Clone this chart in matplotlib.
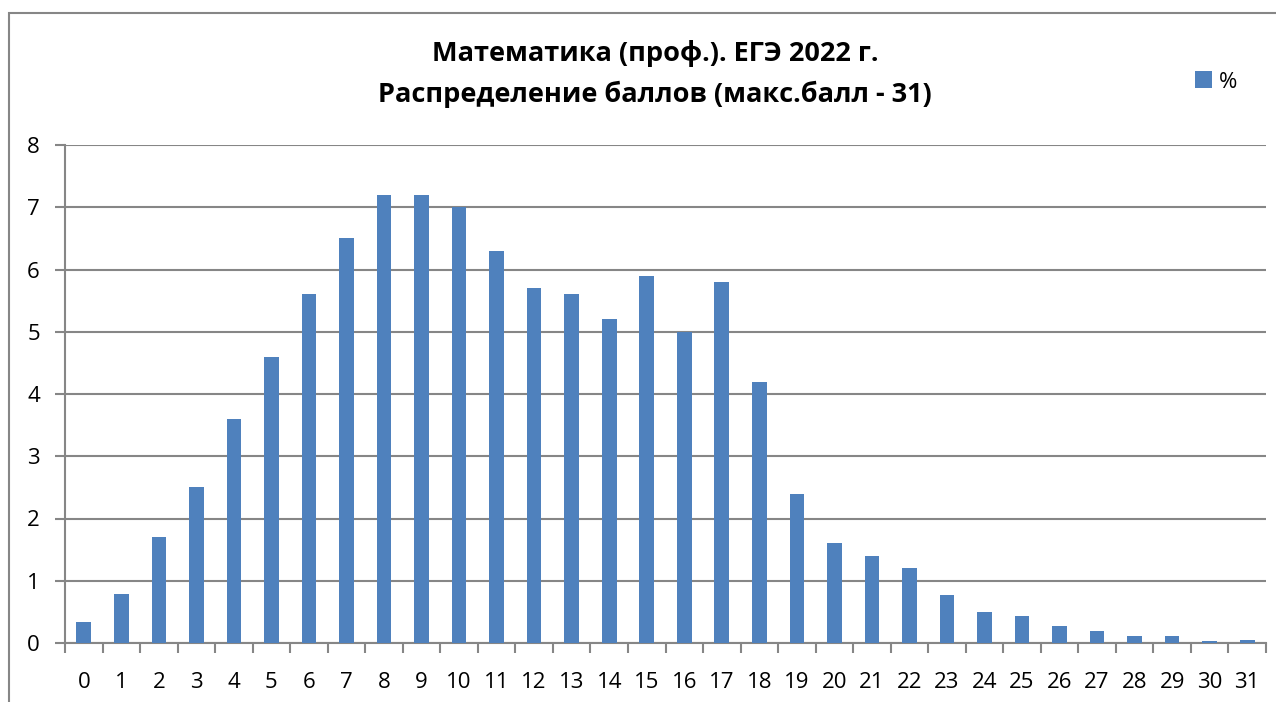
import matplotlib
matplotlib.use('Agg')
import matplotlib.pyplot as plt
from matplotlib.patches import Rectangle

# распределение баллов, %
scores = list(range(32))
percent = [0.34, 0.78, 1.7, 2.5, 3.6, 4.6, 5.6, 6.5, 7.2, 7.2,
           7.0, 6.3, 5.7, 5.6, 5.2, 5.9, 5.0, 5.8, 4.2, 2.4,
           1.6, 1.4, 1.2, 0.77, 0.50, 0.43, 0.27, 0.19, 0.12, 0.12,
           0.03, 0.05]
yticks = list(range(9))

plt.rcParams['font.family'] = ['Open Sans', 'DejaVu Sans']
grid_col = '#868686'
bar_col = '#4F81BD'

fig = plt.figure(figsize=(12.76, 7.02), dpi=100)
ax = fig.add_axes([65/1276, 1-643/702, (1266-65)/1276, (643-145)/702])

# рамка диаграммы (обрезана справа и снизу)
fig.patches.append(Rectangle((9/1276, -0.1), 1.2, 1.1 - 13/702, transform=fig.transFigure,
                             fill=False, edgecolor=grid_col, linewidth=1.5))

ax.bar(scores, percent, width=0.39, color=bar_col, zorder=3, label='%')
ax.set_xlim(-0.5, 31.5)
ax.set_ylim(0, 8)
ax.set_yticks(yticks)
ax.set_xticks(scores)
ax.set_xticks([s - 0.5 for s in scores] + [31.5], minor=True)
ax.grid(axis='y', color=grid_col, linewidth=1.5, zorder=0)
for side in ['top', 'right']:
    ax.spines[side].set_visible(False)
for side in ['left', 'bottom']:
    ax.spines[side].set_color(grid_col)
    ax.spines[side].set_linewidth(1.5)
ax.tick_params(axis='x', which='major', length=0, pad=21, labelsize=16)
ax.tick_params(axis='x', which='minor', length=7, width=1.5, color=grid_col)
ax.tick_params(axis='y', length=7, width=1.5, color=grid_col, pad=11, labelsize=16)

fig.text(655/1276, 1-74/702, 'Математика (проф.). ЕГЭ 2022 г.\nРаспределение баллов (макс.балл - 31)',
         ha='center', va='center', fontsize=19.5, fontweight='bold', linespacing=1.62)

ax.legend(loc='center', bbox_to_anchor=(1216/1276, 1-82/702), bbox_transform=fig.transFigure,
          frameon=False, fontsize=16, handlelength=0.8, handleheight=0.8, handletextpad=0.3)

fig.savefig('out.png', dpi=100)
